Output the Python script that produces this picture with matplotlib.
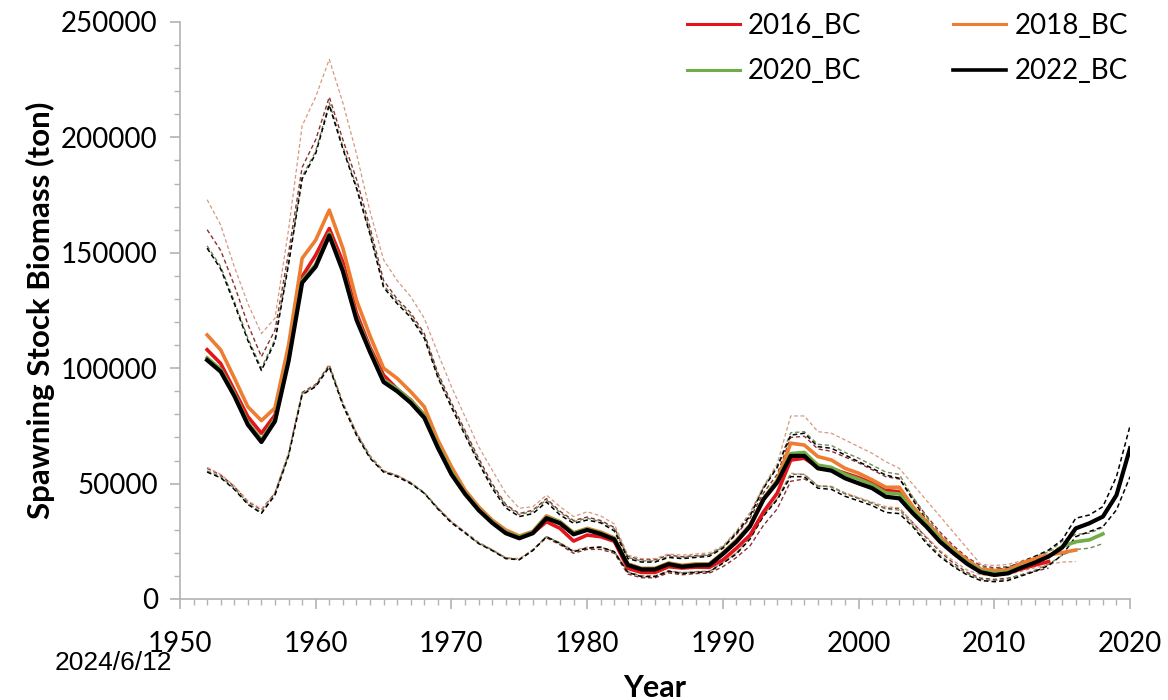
import numpy as np
import matplotlib
matplotlib.use('Agg')
import matplotlib.pyplot as plt
from matplotlib.ticker import MultipleLocator, FuncFormatter
from matplotlib.lines import Line2D


# Spawning stock biomass, thousand tons (first year 1952)
YEARS_2016 = np.arange(1952, 2015)
YEARS_2018 = np.arange(1952, 2017)
YEARS_2020 = np.arange(1952, 2019)
YEARS_2022 = np.arange(1952, 2021)

bc2016 = [108, 102, 90.5, 79, 71.8, 79.7, 106, 139.7, 149, 160.5,
          146, 124, 109, 97, 91, 86.2, 79.7, 66.5, 55.5, 46.3,
          39.2, 33.5, 29, 26.8, 28.5, 33.5, 30.6, 25.1, 27.7, 27,
          25, 13.3, 11.5, 11.5, 14, 13.4, 13.8, 13.7, 16.9, 22,
          27.7, 37.8, 45.8, 60.2, 61, 57.1, 56.5, 54.5, 52.6, 50.1,
          47, 46.5, 39, 32.5, 25.8, 20.5, 15.8, 12, 11, 11.6,
          13, 14.7, 16.2]
bc2016_hi = [160, 151, 136, 119, 105, 116.5, 150, 187, 199, 217.5,
             199, 182, 161, 138, 130, 124, 115, 98, 85, 73,
             61, 50, 41, 37, 38.5, 43.5, 38, 34, 35.5, 34,
             31, 18.5, 17, 17, 19, 18.3, 18.8, 19.2, 22.5, 28,
             35, 46, 54, 70, 70.5, 65, 64, 61.5, 59, 56,
             53, 52, 44, 36, 29, 23, 18, 14.5, 13.5, 14,
             15.5, 17.5, 19.5]
bc2016_lo = [56.6, 53.7, 48.7, 42.2, 38.6, 46, 63, 89.5, 93, 101.5,
             85, 72, 62, 55.5, 53.5, 50.5, 46, 39.5, 33.5, 29,
             24.5, 21.3, 17.8, 17.2, 21.3, 26.5, 23.5, 19.8, 21.5, 21.5,
             19.8, 10.8, 9.2, 9.2, 11.3, 10.5, 11, 11.2, 14, 18,
             23, 32, 39, 51, 52, 49, 48.7, 45.8, 43.6, 41.5,
             39.3, 39.3, 33, 26.5, 20.5, 15.5, 11.5, 9, 8.5, 9,
             10.5, 12, 13.4]

bc2018 = [114.4, 107.9, 95.8, 83.3, 77.3, 82.8, 110, 147.6, 155.5, 168.5,
          152, 129.5, 114, 100, 95.6, 89.8, 83.3, 68.9, 57.3, 47.2,
          40, 34.2, 29.9, 27.3, 29.3, 36, 33.5, 28.7, 30.6, 29,
          26.5, 15.2, 13.3, 13.3, 15.6, 14.6, 15.2, 15.2, 20, 25.5,
          32, 43.5, 51.5, 67.5, 66.7, 61.7, 60.2, 56.6, 54.5, 51.6,
          48.4, 48.4, 40, 33.5, 27, 21.5, 16.9, 12.9, 12.3, 12.6,
          15.5, 17.5, 19, 20.1, 21.2]
bc2018_hi = [173, 162, 144, 128, 115, 121.7, 160, 205, 217.6, 233.8,
             215, 193, 168, 147, 138, 131, 121.6, 106.5, 92, 79,
             66, 55.9, 45.8, 39.3, 40, 45, 40, 35.7, 37.8, 36,
             32.5, 19, 17.5, 17.5, 19.5, 19, 19.5, 20, 23, 29.5,
             37.5, 49, 58.5, 79.3, 79.3, 72.5, 71.8, 68.9, 66, 63.1,
             59.5, 56.6, np.nan, np.nan, np.nan, np.nan, np.nan, 15, 14.5, 15,
             16.5, 18.5, 20.5, 23, 24]
bc2018_lo = [57, 54, 49, 42.5, 39, 46, 63.5, 89, 92.5, 101,
             85, 72, 62, 55.5, 53.5, 50.5, 46, 39.5, 33.5, 29,
             24.5, 21.5, 18, 17.5, 21.5, 27, 24.5, 21, 22.5, 22.5,
             20.5, 11.5, 10, 10, 12, 11.5, 12, 12, 15.5, 20,
             26, 36.5, 43.5, 54.5, 54, 49, 48.7, 46, 44, 42,
             40, 39.5, 33, 27, 21, 16.5, 12.5, 10.5, 10, 10.5,
             12, 13.5, 15, 16, 16.2]

bc2020 = [104.5, 99.5, 89, 76.5, 69, 78, 104, 138, 145, 158.5,
          143, 122, 108, 95, 91, 86, 79.5, 66.5, 55, 46,
          39, 33.5, 29, 26.8, 29, 35.5, 33.3, 28.5, 30.3, 28.5,
          26.2, 15, 13, 13, 15.4, 14.3, 14.9, 15, 19.8, 25,
          31.8, 43.5, 51, 63, 63.5, 58, 57, 54, 52, 49.5,
          46, 45.5, 38.5, 32.3, 25.8, 20.5, 15.8, 12.2, 11, 11.6,
          13.8, 15.8, 18.4, 22.7, 24.8, 25.6, 28.2]
bc2020_hi = [153, 144, 129, 113, 100, 112.5, 146, 183, 194, 215,
             196, 179, 159, 136, 129, 123, 114, 97, 84, 72,
             60, 49, 40.5, 36.5, 38, 43, 37.5, 33.5, 35, 33.5,
             30.5, 18, 16.5, 16.5, 18.5, 18, 18.5, 19, 22.5, 29,
             36.5, 48.5, 57.5, 72, 72.5, 67, 66.5, 63.5, 61, 58,
             55, 54, 44, 35.5, 28, 22, 17, 13.8, 13, 13.8,
             15.5, 17.8, 20.5, 25, 28, 28.5, 31]
bc2020_lo = [55.5, 53, 48, 41.5, 37.5, 45.5, 62.5, 89, 92.5, 101,
             84.5, 71.5, 61.5, 55.2, 53.2, 50.2, 46, 39.2, 33.2, 28.8,
             24.2, 21.2, 17.6, 17.1, 21.2, 27, 24.2, 20.6, 22.2, 22.3,
             20.5, 11.8, 10, 10, 12.3, 11.3, 11.8, 12, 15.8, 20,
             26.5, 36.5, 43.5, 54, 54, 49, 48.5, 45.5, 43.5, 41.5,
             39, 38.5, 32, 25, 19, 14.5, 11, 8.5, 8, 8.6,
             10.5, 12.5, 15, 19, 21.5, 22, 24]

bc2022 = [103.5, 98.5, 88, 75.5, 68, 77, 103, 137, 144, 157.5,
          142, 121, 107, 94, 90, 85, 78.5, 65.5, 54, 45.5,
          38.5, 33, 28.5, 26.3, 28.5, 35, 32.8, 28, 29.9, 28.2,
          25.8, 14.7, 12.8, 12.8, 15.1, 14, 14.6, 14.7, 19.5, 24.8,
          31.5, 43.2, 50.5, 62, 62, 56.6, 55.6, 52.3, 50.1, 48,
          44.3, 43.6, 37.1, 31.3, 24.8, 19.8, 15.2, 11.6, 10.4, 11.1,
          13.6, 15.8, 18.4, 22.3, 30.6, 32.8, 35.7, 45, 65.3]
bc2022_hi = [152, 143, 128, 112, 99, 111.5, 145, 182, 193, 214,
             195, 178, 158, 135, 128, 122, 113, 96, 83, 71,
             59, 48, 39.5, 35.7, 37, 42, 36.4, 32.8, 34.2, 33,
             29.5, 17.5, 16, 16, 18, 17.5, 18, 18.5, 22, 28.5,
             36, 48, 57, 71, 71.8, 66, 65.3, 62.4, 59.5, 56.6,
             53.7, 52.3, 42.9, 34.2, 27, 21.2, 16.2, 13, 12.5, 13.5,
             16, 18.5, 21.2, 25.6, 35, 36.4, 40, 53, 75]
bc2022_lo = [55, 52.5, 47.5, 41, 37.1, 45, 62, 88.5, 92, 100.5,
             84, 71, 61, 55, 53, 50, 45.8, 39, 33, 28.6,
             24, 21, 17.5, 17, 21, 27, 24, 20.5, 22, 22.5,
             20.5, 11.5, 9.7, 9.7, 12, 11, 11.5, 11.8, 15.5, 19.5,
             26, 36, 43, 53, 53, 48, 47.5, 44.5, 42.5, 40.5,
             37.5, 37, 31.3, 24.1, 18.3, 14, 10.4, 8, 7.5, 8,
             10, 12, 14.5, 19.1, 27, 29.2, 31.3, 38.6, 53]

LABELS = ['2016_BC', '2018_BC', '2020_BC', '2022_BC']
COLORS = ['#e3141b', '#ed7d31', '#70ad47', '#000000']
CI_COLORS = ['#8c2f33', '#d49a80', '#6f8a55', '#000000']
LINE_W = [2.6, 2.6, 2.6, 3.0]


def draw_bounds(ax, years, lo, hi, ci_color, lw_ci):
    for bound in (lo, hi):
        vals = np.asarray(bound, dtype=float) * 1000
        ok = ~np.isnan(vals)
        ax.plot(years[ok], vals[ok], color=ci_color, lw=lw_ci,
                ls=(0, (3, 2)), zorder=2)


plt.rcParams['font.family'] = ['Lato', 'DejaVu Sans']

fig = plt.figure(figsize=(11.68, 7.0), dpi=100)
ax = fig.add_axes([0.1541, 0.1443, 0.8134, 0.8243])

series = [
    (YEARS_2016, bc2016, bc2016_lo, bc2016_hi),
    (YEARS_2018, bc2018, bc2018_lo, bc2018_hi),
    (YEARS_2020, bc2020, bc2020_lo, bc2020_hi),
    (YEARS_2022, bc2022, bc2022_lo, bc2022_hi),
]

# confidence bounds (thin dashed)
ci_widths = [1.0, 0.9, 1.0, 1.1]
for (yrs, mid, lo, hi), cc, w in zip(series, CI_COLORS, ci_widths):
    draw_bounds(ax, yrs, lo, hi, cc, w)

# central estimates
for (yrs, mid, lo, hi), c, lw in zip(series, COLORS, LINE_W):
    ax.plot(yrs, np.asarray(mid) * 1000, color=c, lw=lw, zorder=3)

ax.set_xlim(1950, 2020)
ax.set_ylim(0, 250000)
ax.xaxis.set_major_locator(MultipleLocator(10))
ax.xaxis.set_minor_locator(MultipleLocator(1))
ax.yaxis.set_major_locator(MultipleLocator(50000))
ax.yaxis.set_minor_locator(MultipleLocator(10000))
ax.yaxis.set_major_formatter(FuncFormatter(lambda v, p: f'{int(v)}'))

for side in ('top', 'right'):
    ax.spines[side].set_visible(False)
for side in ('left', 'bottom'):
    ax.spines[side].set_color('#b3b3b3')
    ax.spines[side].set_linewidth(1.2)

ax.tick_params(axis='both', which='major', direction='out', length=7,
               width=1.2, color='#b3b3b3', labelsize=20, labelcolor='black')
ax.tick_params(axis='both', which='minor', direction='out', length=4,
               width=1.0, color='#b3b3b3')
ax.tick_params(axis='x', which='major', pad=16)
ax.tick_params(axis='y', which='major', pad=9)

ax.set_ylabel('Spawning Stock Biomass (ton)', fontsize=22.5, fontweight='bold',
              labelpad=4)
ax.set_xlabel('Year', fontsize=22, fontweight='bold', labelpad=12)

# legend filled row-wise: 2016 | 2018 / 2020 | 2022
order = ['2016_BC', '2020_BC', '2018_BC', '2022_BC']
leg_handles = [Line2D([0], [0], color=COLORS[LABELS.index(k)],
                      lw=LINE_W[LABELS.index(k)] - 0.4) for k in order]
ax.legend(leg_handles, order, loc='upper right', ncol=2, frameon=False,
          fontsize=20, handlelength=1.9, handletextpad=0.3,
          columnspacing=3.3, labelspacing=0.7, borderaxespad=0,
          bbox_to_anchor=(1.0 + 9 / 950, 1.035))

fig.text(55 / 1168, 1 - 663 / 700, '2024/6/12', fontsize=19,
         family=['Liberation Sans', 'DejaVu Sans'], va='center', ha='left')

fig.savefig('out.png', dpi=100)
